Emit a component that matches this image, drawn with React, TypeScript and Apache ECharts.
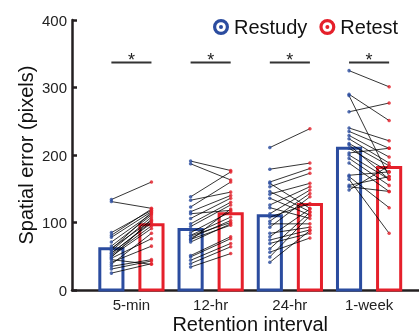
import React, { useEffect, useRef } from "react";
import * as echarts from "echarts";

const categories = ["5-min", "12-hr", "24-hr", "1-week"];
const restudyMeans = [61, 89.5, 110, 210];
const retestMeans = [96.5, 113, 126.5, 181.5];

const restudy5min = [134, 131, 85, 81, 78, 71, 65, 62, 58, 54, 50, 47, 55, 60, 41, 35, 31, 25, 45, 52, 38, 48];
const retest5min = [160, 121, 118, 120, 116, 113, 111, 103, 108, 101, 91, 76, 99, 115, 65, 45, 43, 39, 38, 95, 84, 105];
const restudy12hr = [191, 187, 138, 133, 123, 116, 113, 106, 98, 94, 85, 81, 77, 74, 71, 75, 51, 49, 44, 39, 34, 80];
const retest12hr = [177, 163, 175, 145, 160, 140, 118, 136, 130, 126, 116, 108, 103, 120, 98, 96, 79, 76, 69, 64, 54, 100];
const restudy24hr = [211, 179, 160, 158, 153, 146, 142, 136, 126, 122, 113, 108, 102, 98, 93, 84, 79, 74, 69, 61, 56, 49, 41];
const retest24hr = [239, 188, 180, 121, 173, 116, 158, 111, 153, 106, 148, 128, 143, 98, 138, 93, 120, 89, 84, 115, 77, 110, 88];
const restudy1wk = [325, 290, 288, 264, 240, 235, 229, 224, 217, 210, 203, 200, 195, 188, 170, 168, 164, 155, 153, 148, 215];
const retest1wk = [301, 251, 168, 277, 221, 210, 197, 188, 184, 175, 210, 164, 155, 146, 175, 122, 84, 168, 146, 184, 164];

const restudyGroups = [restudy5min, restudy12hr, restudy24hr, restudy1wk];
const retestGroups = [retest5min, retest12hr, retest24hr, retest1wk];

const significanceLevel = 337;
const yMin = 0;
const yMax = 400;
const yInterval = 100;

const BLUE = "#2B4C9F";
const RED = "#E5202B";
const INK = "#231F20";
const FONT = "'Liberation Sans', Arial, Helvetica, sans-serif";
const OFFSET = 0.253;
const HALF_W = 0.146;

const ringIcon =
  "path://M8 0A8 8 0 1 1 8 16A8 8 0 1 1 8 0ZM8 3.2A4.8 4.8 0 1 0 8 12.8A4.8 4.8 0 1 0 8 3.2ZM8 6A2 2 0 1 1 8 10A2 2 0 1 1 8 6Z";

export default function App() {
  const ref = useRef<HTMLDivElement>(null);
  useEffect(() => {
    if (!ref.current) return;
    const chart = echarts.init(ref.current, null, { renderer: "svg" });

    const pairData: number[][] = [];
    const blueDots: number[][] = [];
    const redDots: number[][] = [];
    restudyGroups.forEach((grp, g) => {
      grp.forEach((v, i) => {
        const r = retestGroups[g][i];
        pairData.push([g + 1, v, r]);
        blueDots.push([g + 1 - OFFSET, v]);
        redDots.push([g + 1 + OFFSET, r]);
      });
    });

    const barRender = (side: number, color: string) => (params: any, api: any) => {
      const x = api.value(0) + side * OFFSET;
      const v = api.value(1);
      const p1 = api.coord([x - HALF_W, v]);
      const p2 = api.coord([x + HALF_W, 0]);
      return {
        type: "rect",
        shape: { x: p1[0], y: p1[1], width: p2[0] - p1[0], height: p2[1] - p1[1] },
        style: { fill: "none", stroke: color, lineWidth: 3 },
      };
    };

    chart.setOption({
      animation: false,
      legend: {
        left: 208,
        top: 12,
        width: 211,
        itemWidth: 16,
        itemHeight: 16,
        itemGap: 12,
        selectedMode: false,
        textStyle: { fontSize: 20, color: "#111", fontFamily: FONT },
        data: [
          { name: "Restudy", icon: ringIcon, itemStyle: { color: BLUE } },
          { name: "Retest", icon: ringIcon, itemStyle: { color: RED } },
        ],
      },
      grid: { left: 72, top: 20, width: 356.5, height: 270, containLabel: false, outerBoundsMode: "none" },
      xAxis: {
        type: "value",
        min: 0.25,
        max: 4.75,
        interval: 0.25,
        name: "Retention interval",
        nameLocation: "middle",
        nameGap: 24,
        nameMoveOverlap: false,
        nameTextStyle: { fontSize: 20, color: "#111", fontFamily: FONT },
        axisLine: { lineStyle: { color: INK, width: 2.5 } },
        axisTick: { show: false },
        splitLine: { show: false },
        axisLabel: {
          fontSize: 15,
          color: "#222",
          fontFamily: FONT,
          margin: 7,
          showMinLabel: false,
          showMaxLabel: false,
          formatter: (v: number) => (Number.isInteger(v) && v >= 1 && v <= 4 ? categories[v - 1] : ""),
        },
      },
      yAxis: {
        type: "value",
        min: yMin,
        max: yMax,
        interval: yInterval,
        name: "Spatial error (pixels)",
        nameLocation: "middle",
        nameGap: 36,
        nameMoveOverlap: false,
        nameTextStyle: { fontSize: 20, color: "#111", fontFamily: FONT },
        axisLine: { show: true, lineStyle: { color: INK, width: 2.5 } },
        axisTick: { show: true, inside: true, length: 5, lineStyle: { color: INK, width: 2.5 } },
        splitLine: { show: false },
        axisLabel: { fontSize: 15, color: "#222", fontFamily: FONT, margin: 5 },
      },
      series: [
        {
          name: "Restudy",
          type: "custom",
          itemStyle: { color: BLUE },
          renderItem: barRender(-1, BLUE),
          data: restudyMeans.map((m, i) => [i + 1, m]),
          encode: { x: 0, y: 1 },
          z: 2,
        },
        {
          name: "Retest",
          type: "custom",
          itemStyle: { color: RED },
          renderItem: barRender(1, RED),
          data: retestMeans.map((m, i) => [i + 1, m]),
          encode: { x: 0, y: 1 },
          z: 2,
        },
        {
          name: "pairs",
          type: "custom",
          renderItem: (params: any, api: any) => {
            const x = api.value(0);
            const p1 = api.coord([x - OFFSET, api.value(1)]);
            const p2 = api.coord([x + OFFSET, api.value(2)]);
            return {
              type: "line",
              shape: { x1: p1[0], y1: p1[1], x2: p2[0], y2: p2[1] },
              style: { stroke: "#000", lineWidth: 0.8 },
            };
          },
          data: pairData,
          encode: { x: 0, y: [1, 2] },
          z: 3,
        },
        {
          name: "restudyDots",
          type: "scatter",
          symbol: "circle",
          symbolSize: 3.5,
          itemStyle: { color: BLUE },
          data: blueDots,
          z: 4,
        },
        {
          name: "retestDots",
          type: "scatter",
          symbol: "circle",
          symbolSize: 3.5,
          itemStyle: { color: RED },
          data: redDots,
          z: 4,
        },
        {
          name: "significance",
          type: "custom",
          renderItem: (params: any, api: any) => {
            const x = api.value(0);
            const v = api.value(1);
            const a = api.coord([x - OFFSET, v]);
            const b = api.coord([x + OFFSET, v]);
            const c = api.coord([x, v]);
            return {
              type: "group",
              children: [
                {
                  type: "line",
                  shape: { x1: a[0], y1: a[1], x2: b[0], y2: b[1] },
                  style: { stroke: "#333", lineWidth: 2 },
                },
                {
                  type: "text",
                  x: c[0],
                  y: c[1] - 3,
                  style: {
                    text: "*",
                    fontSize: 18,
                    fontFamily: FONT,
                    fill: "#222",
                    align: "center",
                    verticalAlign: "middle",
                  },
                },
              ],
            };
          },
          data: categories.map((_, i) => [i + 1, significanceLevel]),
          encode: { x: 0, y: 1 },
          z: 5,
        },
      ],
    });
    return () => chart.dispose();
  }, []);
  return <div ref={ref} style={{ position: "fixed", left: 0, top: 0, width: 419, height: 335 }} />;
}
